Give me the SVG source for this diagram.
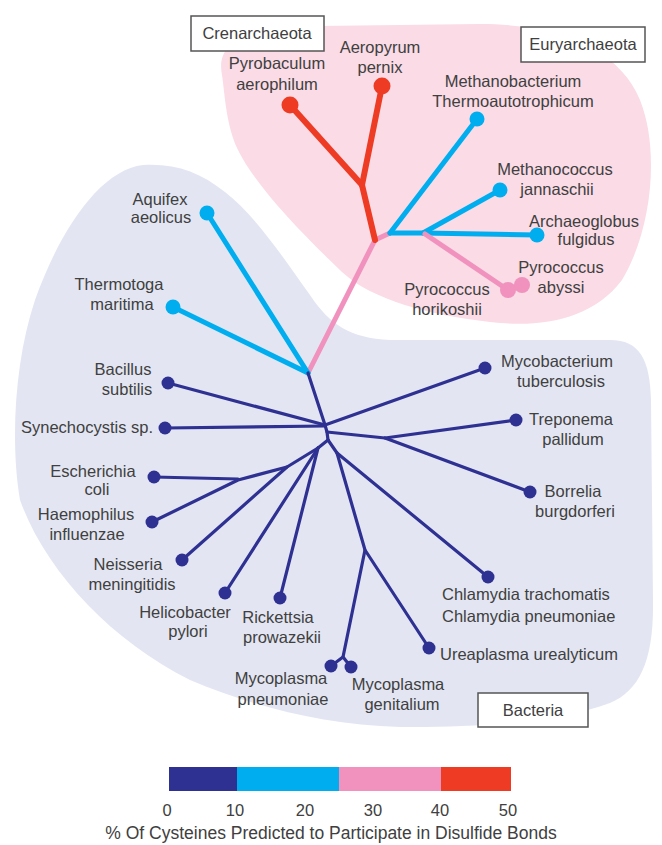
<svg xmlns="http://www.w3.org/2000/svg" width="662" height="845" viewBox="0 0 662 845">
<style>
text{font-family:"Liberation Sans",Arial,sans-serif;font-size:16.5px;fill:#404040;text-anchor:middle}
.l{text-anchor:start}
.dk{stroke:#2e3192;stroke-width:3.2;fill:none;stroke-linecap:round;stroke-linejoin:round}
.cy{stroke:#00aeef;stroke-width:5;fill:none;stroke-linecap:round;stroke-linejoin:round}
.rd{stroke:#ee3b24;stroke-width:6;fill:none;stroke-linecap:round;stroke-linejoin:round}
.pk{stroke:#f092bd;stroke-width:5;fill:none;stroke-linecap:round;stroke-linejoin:round}
.ddk{fill:#2e3192}.dcy{fill:#00aeef}.drd{fill:#ee3b24}.dpk{fill:#f092bd}
.box{fill:#fff;stroke:#555;stroke-width:1.5}
</style>
<rect width="662" height="845" fill="#fff"/>
<g id="regions">
<path id="region-archaea" d="M222,75 C215,40 250,27 320,26 L480,24 C560,24 620,50 640,100 C660,150 652,230 622,280 C592,320 540,328 490,322 C430,315 372,300 342,272 C300,232 255,185 238,150 C226,125 225,95 222,75 Z" fill="#fadbe6"/>
<path id="region-bacteria" d="M143,165 C175,163 200,172 225,192 C255,215 285,260 310,295 C330,325 350,338 390,340 L610,340 C640,340 650,360 651,400 L653,600 C654,660 640,690 610,703 C560,722 470,728 400,727 C320,725 250,705 190,680 C110,640 45,570 20,500 C10,440 15,360 35,300 C60,230 100,170 143,165 Z" fill="#e3e6f2"/>
</g>
<g id="connectors">
<polyline class="pk" points="308,373 375,240 390,233"/>
<polyline class="rd" points="375,240 362,185 290,105"/>
<line class="rd" x1="362" y1="185" x2="382" y2="86"/>
<line class="cy" x1="390" y1="233" x2="477" y2="119"/>
<polyline class="cy" points="390,233 423,233 537,235"/>
<line class="cy" x1="423" y1="233" x2="500" y2="190"/>
<polyline class="pk" points="425,234 508,290 522,285"/>
<line class="cy" x1="308" y1="373" x2="207" y2="213"/>
<line class="cy" x1="308" y1="373" x2="173" y2="307"/>
<polyline class="dk" points="308,373 325,425 327,432 328,440"/>
<line class="dk" x1="325" y1="425" x2="168" y2="383"/>
<line class="dk" x1="325" y1="426" x2="165" y2="428"/>
<line class="dk" x1="325" y1="425" x2="485" y2="368"/>
<polyline class="dk" points="327,432 385,438 516,420"/>
<line class="dk" x1="385" y1="438" x2="530" y2="492"/>
<polyline class="dk" points="328,440 318,448 287,467 182,560"/>
<polyline class="dk" points="287,467 238,480 152,522"/>
<line class="dk" x1="238" y1="479" x2="154" y2="477"/>
<line class="dk" x1="318" y1="448" x2="225" y2="593"/>
<line class="dk" x1="318" y1="448" x2="280" y2="598"/>
<polyline class="dk" points="328,440 337,453 488,577"/>
<polyline class="dk" points="337,453 365,550 429,648"/>
<polyline class="dk" points="365,550 343,657 331,666"/>
<line class="dk" x1="343" y1="657" x2="351" y2="667"/>
</g>
<g id="labels-boxes">
<g id="crenarchaeota"><rect class="box" x="191" y="16" width="133" height="35"/><text x="257" y="39">Crenarchaeota</text></g>
<g id="euryarchaeota"><rect class="box" x="521" y="27" width="124" height="35"/><text x="583" y="50">Euryarchaeota</text></g>
<g id="bacteria"><rect class="box" x="478" y="693" width="110" height="34"/><text x="533" y="716">Bacteria</text></g>
</g>
<g id="pyrobaculum"><circle class="drd" cx="290" cy="105" r="8.5"/><text x="277" y="69">Pyrobaculum</text><text x="277" y="90">aerophilum</text></g>
<g id="aeropyrum"><circle class="drd" cx="382" cy="86" r="8.5"/><text x="380" y="53">Aeropyrum</text><text x="380" y="73">pernix</text></g>
<g id="methanobacterium"><circle class="dcy" cx="477" cy="119" r="7.5"/><text x="513" y="87">Methanobacterium</text><text x="513" y="107">Thermoautotrophicum</text></g>
<g id="methanococcus"><circle class="dcy" cx="500" cy="190" r="7.5"/><text x="555" y="175">Methanococcus</text><text x="557" y="195">jannaschii</text></g>
<g id="archaeoglobus"><circle class="dcy" cx="537" cy="235" r="7.5"/><text x="584" y="227">Archaeoglobus</text><text x="586" y="245">fulgidus</text></g>
<g id="pyrococcus-abyssi"><circle class="dpk" cx="522" cy="285" r="8"/><text x="561" y="273">Pyrococcus</text><text x="561" y="293">abyssi</text></g>
<g id="pyrococcus-horikoshii"><circle class="dpk" cx="508" cy="290" r="8"/><text x="447" y="295">Pyrococcus</text><text x="447" y="315">horikoshii</text></g>
<g id="aquifex"><circle class="dcy" cx="207" cy="213" r="7.5"/><text x="160" y="205">Aquifex</text><text x="161" y="223">aeolicus</text></g>
<g id="thermotoga"><circle class="dcy" cx="173" cy="307" r="7.5"/><text x="119" y="290">Thermotoga</text><text x="122" y="310">maritima</text></g>
<g id="bacillus"><circle class="ddk" cx="168" cy="383" r="6.5"/><text x="123" y="375">Bacillus</text><text x="127" y="395">subtilis</text></g>
<g id="synechocystis"><circle class="ddk" cx="165" cy="428" r="6.5"/><text x="87" y="433">Synechocystis sp.</text></g>
<g id="escherichia"><circle class="ddk" cx="154" cy="477" r="6.5"/><text x="93" y="477">Escherichia</text><text x="97" y="495">coli</text></g>
<g id="haemophilus"><circle class="ddk" cx="152" cy="522" r="6.5"/><text x="86" y="520">Haemophilus</text><text x="87" y="540">influenzae</text></g>
<g id="neisseria"><circle class="ddk" cx="182" cy="560" r="6.5"/><text x="128" y="570">Neisseria</text><text x="132" y="590">meningitidis</text></g>
<g id="helicobacter"><circle class="ddk" cx="225" cy="593" r="6.5"/><text x="185" y="618">Helicobacter</text><text x="188" y="637">pylori</text></g>
<g id="rickettsia"><circle class="ddk" cx="280" cy="598" r="6.5"/><text x="278" y="623">Rickettsia</text><text x="282" y="643">prowazekii</text></g>
<g id="mycoplasma-pneumoniae"><circle class="ddk" cx="331" cy="666" r="6.5"/><text x="281" y="684">Mycoplasma</text><text x="283" y="705">pneumoniae</text></g>
<g id="mycoplasma-genitalium"><circle class="ddk" cx="351" cy="667" r="6.5"/><text x="398" y="690">Mycoplasma</text><text x="402" y="710">genitalium</text></g>
<g id="ureaplasma"><circle class="ddk" cx="429" cy="648" r="6.5"/><text class="l" x="440" y="660">Ureaplasma urealyticum</text></g>
<g id="chlamydia"><circle class="ddk" cx="488" cy="577" r="6.5"/><text class="l" x="442" y="600">Chlamydia trachomatis</text><text class="l" x="442" y="622">Chlamydia pneumoniae</text></g>
<g id="mycobacterium"><circle class="ddk" cx="485" cy="368" r="6.5"/><text x="557" y="367">Mycobacterium</text><text x="561" y="387">tuberculosis</text></g>
<g id="treponema"><circle class="ddk" cx="516" cy="420" r="6.5"/><text x="571" y="425">Treponema</text><text x="573" y="445">pallidum</text></g>
<g id="borrelia"><circle class="ddk" cx="530" cy="492" r="6.5"/><text x="573" y="497">Borrelia</text><text x="575" y="517">burgdorferi</text></g>
<g id="legend">
<rect x="169" y="767" width="68" height="24" fill="#2e3192"/>
<rect x="237" y="767" width="102" height="24" fill="#00aeef"/>
<rect x="339" y="767" width="102" height="24" fill="#f092bd"/>
<rect x="441" y="767" width="70" height="24" fill="#ee3b24"/>
<g style="font-size:17.5px"><text x="167" y="816">0</text><text x="235" y="816">10</text><text x="305" y="816">20</text><text x="373" y="816">30</text><text x="440" y="816">40</text><text x="508" y="816">50</text></g>
<text x="331" y="839" style="font-size:17.5px">% Of Cysteines Predicted to Participate in Disulfide Bonds</text>
</g>
</svg>
